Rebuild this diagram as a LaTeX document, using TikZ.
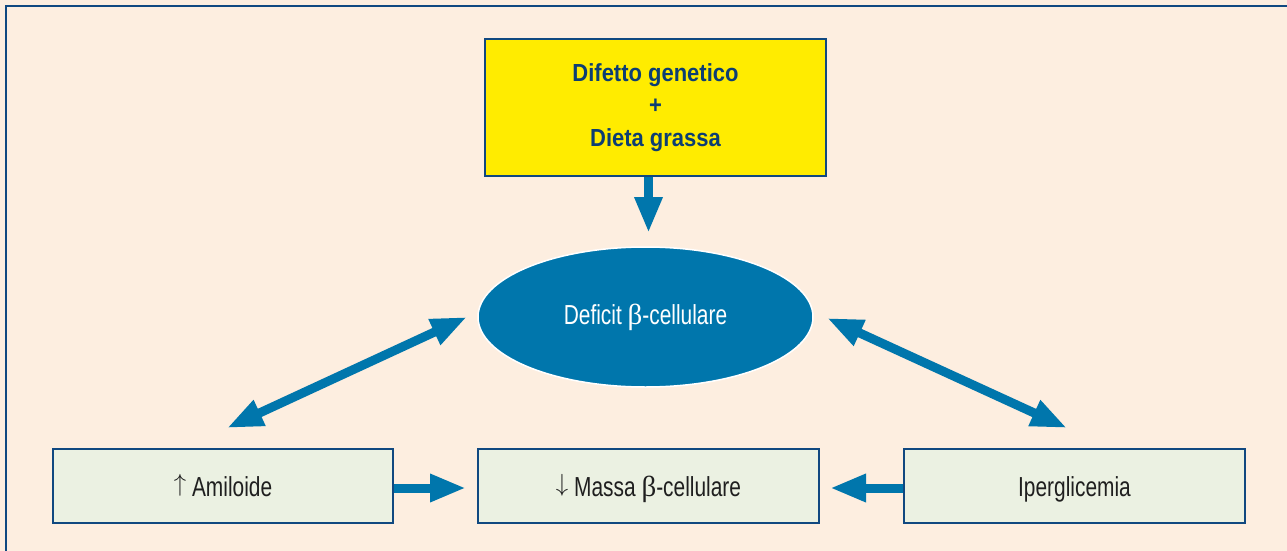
\documentclass[tikz,border=0pt]{standalone}
\usepackage{fontspec}
\usepackage{graphicx}
\setmainfont[FakeStretch=0.76]{Liberation Sans}
\newfontfamily\headfont[FakeStretch=0.89]{Liberation Sans}
\newfontfamily\betafont{Liberation Serif}
\usetikzlibrary{arrows.meta,shapes.geometric}

\definecolor{paper}{RGB}{253,238,224}
\definecolor{edgeblue}{RGB}{16,72,128}
\definecolor{inkblue}{RGB}{13,62,115}
\definecolor{flowblue}{RGB}{0,118,172}
\definecolor{boxgreen}{RGB}{235,241,226}
\definecolor{causeyellow}{RGB}{255,236,0}

% beta and the up/down markers in the labels (markers sit on the baseline, 22pt tall)
\newcommand{\betaglyph}{{\betafont\fontsize{29}{32}\selectfont β}}
\newcommand{\upmark}{\smash{\resizebox{!}{22pt}{\raisebox{\depth}{$\uparrow$}}}}
\newcommand{\downmark}{\smash{\resizebox{!}{22pt}{\raisebox{\depth}{$\downarrow$}}}}

\tikzset{
  causebox/.style={rectangle, draw=edgeblue, line width=2.5pt, fill=causeyellow,
    minimum width=341pt, minimum height=137pt, inner sep=0pt, align=center,
    text=inkblue, font=\headfont\bfseries\fontsize{24.7}{32.5}\selectfont},
  effectbox/.style={rectangle, draw=edgeblue, line width=2.5pt, fill=boxgreen,
    minimum width=340pt, minimum height=74pt, inner sep=0pt,
    text height=23pt, text depth=3pt,
    text=black!88, font=\fontsize{27.5}{32}\selectfont},
  hub/.style={ellipse, draw=white, line width=1.5pt, fill=flowblue,
    minimum width=335pt, minimum height=140pt, inner sep=0pt,
    text=white, font=\fontsize{27.5}{32}\selectfont},
  bigarrow/.style={draw=flowblue, line width=9pt,
    -{Triangle[length=36pt,width=26pt]}},
  twoway/.style={draw=flowblue, line width=9pt,
    {Triangle[length=36pt,width=26pt]}-{Triangle[length=36pt,width=26pt]}}
}

\begin{document}
\begin{tikzpicture}[x=1pt,y=-1pt]
  % page background and the framing rule on the top and left
  \fill[paper] (0,0) rectangle (1287,551);
  \useasboundingbox (0,0) rectangle (1287,551);
  \draw[edgeblue, line width=2pt] (6,551) -- (6,6) -- (1287,6);

  % nodes
  \node[causebox] (cause) at (655.5,107.5) {Difetto genetico\\+\\Dieta grassa};
  \node[hub] (deficit) at (645.5,317) {Deficit \betaglyph-cellulare};
  \node[effectbox] (amil) at (223,486) {\upmark\ Amiloide};
  \node[effectbox, minimum width=341pt] (massa) at (648.5,486) {\downmark\ Massa \betaglyph-cellulare};
  \node[effectbox, minimum width=341pt] (iper) at (1074.5,486) {Iperglicemia};

  % free ends of the connectors
  \coordinate (downtip) at (648.5,233);
  \coordinate (la) at (227,428);
  \coordinate (lb) at (467,317);
  \coordinate (ra) at (827,318);
  \coordinate (rb) at (1067,428);
  \coordinate (amtip) at (466,488);
  \coordinate (iptip) at (830,488);

  % connectors
  \draw[bigarrow] (cause.south -| downtip) -- (downtip);
  \draw[twoway] (la) -- (lb);
  \draw[twoway] (ra) -- (rb);
  \draw[bigarrow] (amil.east |- amtip) -- (amtip);
  \draw[bigarrow] (iper.west |- iptip) -- (iptip);
\end{tikzpicture}
\end{document}
